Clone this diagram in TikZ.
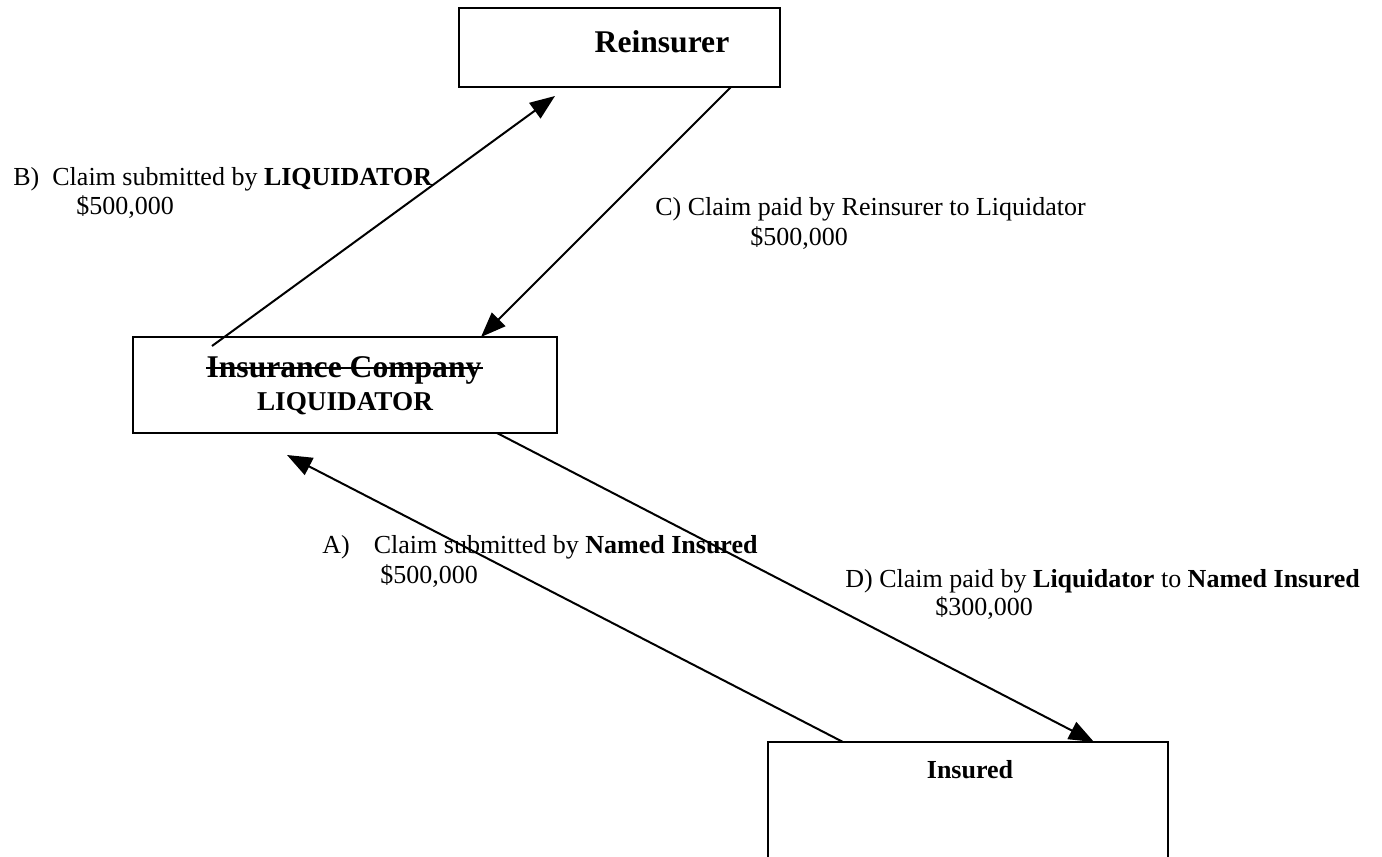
\documentclass[tikz,border=0pt]{standalone}
\usepackage{fontspec}
\setmainfont{Liberation Serif}
\usetikzlibrary{arrows.meta,calc}
\begin{document}
\begin{tikzpicture}[x=0.5pt,y=-0.5pt,
  box/.style={draw, line width=1pt, inner sep=0pt, outer sep=0pt},
  lbl/.style={anchor=base west, inner sep=0pt, font=\fontsize{13}{15}\selectfont},
  head/.style={anchor=base, inner sep=0pt, font=\fontsize{15.8}{19}\selectfont\bfseries},
  arr/.style={line width=1pt, -{Triangle[length=12.5pt,width=9.5pt]}}]
\useasboundingbox (0,0) rectangle (1382,857);
% boxes
\node[box, minimum width=160.5pt, minimum height=39.5pt] (re) at (619.5,47.5) {};
\node[box, minimum width=212pt, minimum height=48pt] (ic) at (345,385) {};
\begin{scope}
\clip (0,0) rectangle (1382,857);
\node[box, minimum width=200pt, minimum height=69pt] (insd) at (968,811) {};
\end{scope}
% box texts
\node[head] (reT) at (662,52) {Reinsurer};
\node[head] (icT1) at (344,377) {Insurance Company};
\node[head, font=\fontsize{13.6}{16}\selectfont\bfseries] (icT2) at (345,410) {LIQUIDATOR};
\draw[line width=1pt] ($(icT1.base west)+(0,-9)$) -- ($(icT1.base east)+(1,-9)$);
\node[head, font=\fontsize{13}{15}\selectfont\bfseries] (insT) at (970,778) {Insured};
% connector end points
\coordinate (Bs) at (212,346);
\coordinate (Be) at (555,96);
\coordinate (Cs) at (731,87);
\coordinate (Ce) at (481,337);
\coordinate (As) at (843,742);
\coordinate (Ae) at (287,455);
\coordinate (Ds) at (497,433);
\coordinate (De) at (1094,742);
\draw[arr] (Bs) -- (Be);
\draw[arr] (Cs) -- (Ce);
\draw[arr] (As) -- (Ae);
\draw[arr] (Ds) -- (De);
% labels
\node[lbl] (lB1) at (13,185) {B)\hspace{6.5pt}Claim submitted by \textbf{LIQUIDATOR}};
\node[lbl] (lB2) at (76,214) {\$500,000};
\node[lbl] (lC1) at (655,215) {C) Claim paid by Reinsurer to Liquidator};
\node[lbl] (lC2) at (750,245) {\$500,000};
\node[lbl] (lA1) at (322,553) {A)\hspace{12pt}Claim submitted by \textbf{Named Insured}};
\node[lbl] (lA2) at (380,583) {\$500,000};
\node[lbl] (lD1) at (845,587) {D) Claim paid by \textbf{Liquidator} to \textbf{Named Insured}};
\node[lbl] (lD2) at (935,615) {\$300,000};
\end{tikzpicture}
\end{document}
